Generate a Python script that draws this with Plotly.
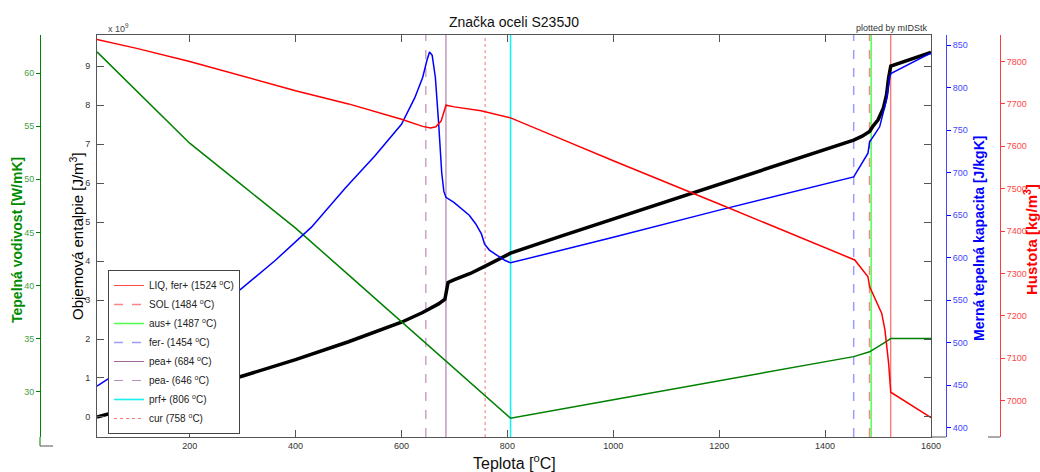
import plotly.graph_objects as go

W, H = 1040, 472
FONT = "Arial, Liberation Sans, sans-serif"

# ---- material data for S235J0 -------------------------------------------
# volumetric enthalpy [x1e9 J/m3]
t_h = [25, 100, 200, 300, 400, 500, 600, 640, 670, 682, 688, 700, 730, 760,
       806, 900, 1000, 1200, 1400, 1454, 1470, 1484, 1490, 1500, 1510, 1516,
       1520, 1524, 1600]
h_e9 = [0.0, 0.27, 0.65, 1.05, 1.47, 1.93, 2.43, 2.68, 2.9, 3.02, 3.45, 3.52,
        3.68, 3.88, 4.2, 4.63, 5.08, 5.98, 6.87, 7.1, 7.2, 7.32, 7.45, 7.62,
        7.92, 8.26, 8.7, 9.0, 9.35]

# specific heat capacity [J/kgK]
t_cp = [25, 100, 200, 287, 362, 430, 494, 550, 600, 625, 640, 648, 653,
        658, 664, 670, 676, 680, 684, 699, 715, 728, 740, 751, 757, 766, 780,
        795, 806, 1000, 1200, 1454, 1481, 1484, 1503, 1516, 1522, 1525, 1600]
cp = [449, 479, 520, 558, 597, 636, 682, 720, 757, 788, 812, 832, 842,
      838, 812, 760, 700, 678, 671, 665, 657, 650, 640, 628, 616, 609, 603,
      597, 594, 624, 656, 695, 723, 736, 754, 786, 813, 817, 841]

# density [kg/m3]
t_rho = [25, 100, 200, 300, 400, 500, 600, 640, 655, 665, 675, 684, 700, 750,
         806, 900, 1000, 1200, 1428, 1456, 1481, 1484, 1507, 1513, 1520, 1524,
         1600]
rho = [7852, 7831, 7800, 7766, 7731, 7700, 7664, 7647, 7643, 7646, 7660, 7697,
       7693, 7684, 7667, 7618, 7566, 7464, 7346, 7332, 7292, 7269, 7206, 7167,
       7088, 7020, 6960]

# thermal conductivity [W/mK]
t_lam = [25, 200, 300, 400, 500, 600, 700, 806, 1000, 1200, 1428, 1454, 1484,
         1500, 1510, 1524, 1600]
lam = [62.0, 53.4, 49.4, 45.4, 41.0, 36.6, 32.2, 27.5, 29.23, 31.0, 33.05,
       33.3, 33.75, 34.2, 34.55, 35.0, 35.0]

# phase transformation temperatures [°C]
phase_names = ["LIQ, fer+", "SOL", "aus+", "fer-", "pea+", "pea-", "prf+", "cur"]
phase_temps = [1524, 1484, 1487, 1454, 684, 646, 806, 758]
phase_colors = ["rgba(255,40,40,0.85)", "rgba(255,90,90,0.75)",
                "rgba(60,255,60,0.9)", "rgba(90,90,255,0.6)",
                "rgba(150,90,150,0.9)", "rgba(180,120,180,0.85)",
                "rgba(0,240,240,0.9)", "rgba(240,90,90,0.8)"]
phase_dash = ["solid", "dash", "solid", "dash", "solid", "dash", "solid", "dot"]
phase_width = [1, 1.5, 1.5, 1.5, 1, 1.2, 1.6, 1]

# axis ranges
X_RANGE = [25, 1600]
H_RANGE = [-0.513, 9.795]
LAM_RANGE = [25.73, 63.59]
CP_RANGE = [389.1, 862.0]
RHO_RANGE = [6914.4, 7862.5]

# ---- layout geometry (pixels) ----------------------------------------------
PX_L, PX_R, PX_T, PX_B = 97, 931, 35, 437


def px(x):
    return x / W


def py(y):
    return 1 - y / H


fig = go.Figure()

# transformation lines (main axes) -> legend entries
for name, t, c, d, w in zip(phase_names, phase_temps, phase_colors, phase_dash, phase_width):
    fig.add_trace(go.Scatter(
        x=[t, t], y=H_RANGE, mode="lines", xaxis="x", yaxis="y",
        line=dict(color=c, dash=d, width=w),
        name=f"{name} ({t} <sup>o</sup>C)", hoverinfo="skip"))

# property curves
fig.add_trace(go.Scatter(x=t_h, y=h_e9, mode="lines", yaxis="y", showlegend=False,
                         line=dict(color="black", width=3.5)))
fig.add_trace(go.Scatter(x=t_lam, y=lam, mode="lines", yaxis="y2", showlegend=False,
                         line=dict(color="rgb(0,128,0)", width=1.5)))
fig.add_trace(go.Scatter(x=t_cp, y=cp, mode="lines", yaxis="y3", showlegend=False,
                         line=dict(color="rgb(0,0,255)", width=1.5)))
fig.add_trace(go.Scatter(x=t_rho, y=rho, mode="lines", yaxis="y4", showlegend=False,
                         line=dict(color="rgb(255,0,0)", width=1.5)))

ydom = [py(PX_B), py(PX_T)]
frame = "#555555"
tickfont = dict(family=FONT, size=9, color="#333333")

fig.update_layout(
    width=W, height=H, autosize=False,
    margin=dict(l=0, r=0, t=0, b=0),
    paper_bgcolor="white", plot_bgcolor="white",
    font=dict(family=FONT, color="black"),
    showlegend=True,
    legend=dict(x=px(108), y=py(270), xanchor="left", yanchor="top",
                bgcolor="white", bordercolor="#444444", borderwidth=1,
                font=dict(family=FONT, size=10, color="#222222"),
                tracegroupgap=0, itemwidth=30),
    xaxis=dict(domain=[px(PX_L), px(PX_R)], range=X_RANGE,
               tickvals=[200, 400, 600, 800, 1000, 1200, 1400, 1600],
               ticks="inside", ticklen=7, tickcolor=frame, mirror="ticks",
               showline=True, linecolor=frame, linewidth=1, showgrid=False,
               zeroline=False, tickfont=tickfont, automargin=False,
               anchor="y"),
    yaxis=dict(domain=ydom, range=H_RANGE, tickvals=list(range(10)),
               ticks="inside", ticklen=7, tickcolor=frame, mirror="ticks",
               showline=True, linecolor=frame, linewidth=1, showgrid=False,
               zeroline=False, tickfont=tickfont, automargin=False,
               ticklabelstandoff=4),
    yaxis2=dict(domain=ydom, range=LAM_RANGE, overlaying="y", anchor="free",
                position=px(40), side="left",
                tickvals=[30, 35, 40, 45, 50, 55, 60],
                ticks="outside", ticklen=4, tickcolor="rgb(0,128,0)",
                showline=True, linecolor="rgb(0,128,0)", linewidth=1,
                showgrid=False, zeroline=False, automargin=False,
                tickfont=dict(family=FONT, size=9, color="rgb(70,160,70)")),
    yaxis3=dict(domain=ydom, range=CP_RANGE, overlaying="y", anchor="free",
                position=px(946), side="right",
                tickvals=list(range(400, 851, 50)),
                ticks="outside", ticklen=4, tickcolor="rgb(0,0,255)",
                showline=True, linecolor="rgb(70,70,255)", linewidth=1,
                showgrid=False, zeroline=False, automargin=False,
                tickfont=dict(family=FONT, size=9, color="rgb(70,70,255)")),
    yaxis4=dict(domain=ydom, range=RHO_RANGE, overlaying="y", anchor="free",
                position=px(1000), side="right",
                tickvals=list(range(7000, 7801, 100)),
                ticks="outside", ticklen=4, tickcolor="rgb(255,60,60)",
                showline=True, linecolor="rgb(255,60,60)", linewidth=1,
                showgrid=False, zeroline=False, automargin=False,
                tickfont=dict(family=FONT, size=9, color="rgb(255,70,70)")),
)

# small axis stubs
stubs = [
    (px(40), py(PX_B), px(40), py(446), "rgb(0,128,0)"),
    (px(40), py(446), px(53), py(446), "#555555"),
    (px(PX_R), py(PX_B), px(946), py(PX_B), "#555555"),
    (px(988), py(PX_B), px(1000), py(PX_B), "#555555"),
]
for x0, y0, x1, y1, c in stubs:
    fig.add_shape(type="line", xref="paper", yref="paper", x0=x0, y0=y0,
                  x1=x1, y1=y1, line=dict(color=c, width=1))

ann = [
    dict(text="Značka oceli S235J0", x=px(514), y=py(22), font=dict(size=14, color="#111")),
    dict(text="x 10<sup>9</sup>", x=px(118), y=py(28), font=dict(size=9, color="#444")),
    dict(text="plotted by mIDStk", x=px(930), y=py(28), xanchor="right",
         font=dict(size=9, color="#333")),
    dict(text="Teplota [<sup>o</sup>C]", x=px(514), y=py(462), font=dict(size=16, color="#111")),
    dict(text="<b>Tepelná vodivost [W/mK]</b>", x=px(17), y=py(240), textangle=-90,
         font=dict(size=14, color="rgb(0,140,0)")),
    dict(text="Objemová entalpie [J/m<sup>3</sup>]", x=px(76), y=py(236), textangle=-90,
         font=dict(size=15, color="black")),
    dict(text="<b>Merná tepelná kapacita [J/kgK]</b>", x=px(979), y=py(239), textangle=-90,
         font=dict(size=14, color="rgb(0,0,255)")),
    dict(text="<b>Hustota [kg/m<sup>3</sup>]</b>", x=px(1030), y=py(240), textangle=-90,
         font=dict(size=15, color="rgb(255,0,0)")),
]
for a in ann:
    a.setdefault("xanchor", "center")
    fig.add_annotation(xref="paper", yref="paper", showarrow=False,
                       yanchor="middle", **{k: v for k, v in a.items()})
    fig.layout.annotations[-1].font.family = FONT

fig.write_html("out.html")
